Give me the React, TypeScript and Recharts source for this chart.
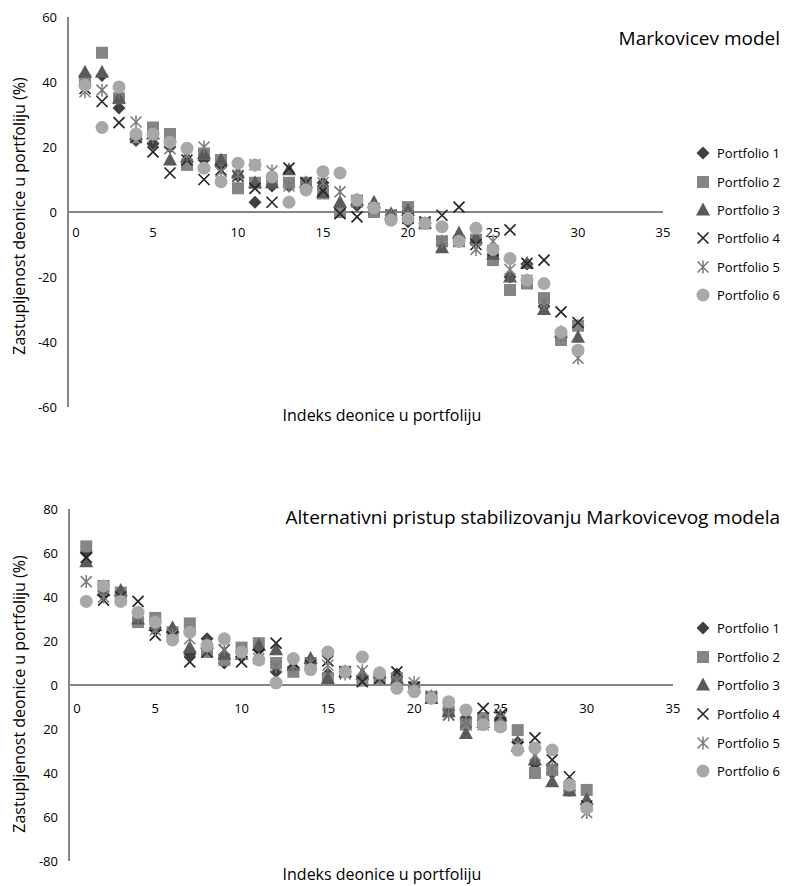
import React from 'react';
import { ScatterChart, Scatter, XAxis, YAxis, ReferenceLine, ReferenceDot } from 'recharts';

const stockIndex = [1, 2, 3, 4, 5, 6, 7, 8, 9, 10, 11, 12, 13, 14, 15, 16, 17, 18, 19, 20, 21, 22, 23, 24, 25, 26, 27, 28, 29, 30];

const seriesNames = ['Portfolio 1', 'Portfolio 2', 'Portfolio 3', 'Portfolio 4', 'Portfolio 5', 'Portfolio 6'];

// Markovicev model
const markP1 = [42, 42, 32, 22, 21, 20, 15, 16, 14, 11, 3, 8, 8, 8, 9, 1.5, 2, 1, -1, -3, -3.5, -10, -8, -8, -13, -20, -16, -29, -38, -35];
const markP2 = [40, 49, 35, 23, 26, 24, 14.5, 18, 16, 7.3, 9, 9.5, 9, 9, 5.7, 0, 3.5, 0, -1, 1.5, -3.5, -9, -9, -8.5, -14.8, -24, -22, -26.5, -39.4, -35];
const markP3 = [43, 43, 35, 24, 24, 16, 17, 18, 16, 12, 9, 9, 13, 9, 6, 3, 3.7, 3, -0.5, 0.5, -3.5, -11, -6.5, -8, -13, -20, -15.8, -30, -37, -38.5];
const markP4 = [38, 34, 27.5, 23, 18.5, 12, 16, 10, 13, 11, 7.3, 3, 13.5, 9, 6.5, -0.5, -1.5, 1, -1, -2, -3, -1, 1.5, -10, -12, -5.5, -15.8, -14.8, -30.7, -34];
const markP5 = [37, 37.5, 37, 27.7, 23, 19.5, 17.5, 20, 12.5, 11.4, 14.5, 12.6, 8, 8, 9, 6.2, 3, 1, -1, -1, -3.5, -9, -9, -11.5, -9, -17.7, -21, -28, -38, -45];
const markP6 = [39, 26, 38.5, 24, 24, 21.5, 19.6, 13.5, 9.3, 15, 14.5, 10.8, 3, 6.8, 12.4, 12, 3.7, 1.2, -2.5, -2, -3.5, -4.5, -9, -5, -11.5, -14.3, -21, -22, -37, -42.5];

// Alternativni pristup
const altP1 = [60, 41, 40, 30, 26, 24, 14, 21, 10, 13, 16, 6, 8, 10, 5, 6, 4, 4, 5, -1, -6, -11, -15, -16, -15, -26, -36, -40, -48, -54];
const altP2 = [63, 45, 42, 28.6, 30.5, 24, 28, 15, 11.4, 17, 19, 10, 6, 10, 3, 6, 2, 3, 3, -1, -5.4, -12, -18, -15, -18, -20.5, -40, -38.6, -48, -47.7];
const altP3 = [56, 43, 43, 30, 27, 26, 17, 19, 14, 14, 18, 16, 9, 12, 3, 6, 5, 5.5, 3, -1, -6, -12, -22, -17, -14, -28, -34, -44, -48, -52];
const altP4 = [58, 38.6, 40, 38, 22.7, 22, 10.5, 15, 16, 10.5, 14, 19, 10, 9, 11, 6, 1.5, 3, 6, -1, -6, -13.6, -17, -10.6, -13.6, -28, -24, -34, -41.7, -55];
const altP5 = [47, 40, 39, 31, 25, 23, 21, 16, 16, 14, 12, 8.4, 9, 10, 9, 5, 6.5, 4, 2, 1, -5, -13.6, -17, -18, -15, -27, -32, -38, -46, -58];
const altP6 = [38, 45, 38, 33, 28.6, 20.5, 24, 18, 21, 15, 11.4, 1, 12, 7, 15, 6, 12.7, 5.5, -1.5, -3, -6, -7.6, -11.4, -18, -19, -29.6, -28.6, -29.6, -45.5, -56];

const xTicks = [0, 5, 10, 15, 20, 25, 30, 35];
const topYTicks = [-60, -40, -20, 0, 20, 40, 60];
const bottomYTicks = [-80, -60, -40, -20, 0, 20, 40, 60, 80];
const bottomYTickLabels = ['-80', '60', '40', '20', '0', '20', '40', '60', '80'];

const FONT = '"Open Sans", "Noto Sans", sans-serif';
const AXIS_COLOR = '#868686';

const MARKERS = ['diamond', 'square', 'triangle', 'x', 'asterisk', 'circle'];
const COLORS = ['#3f3f3f', '#858585', '#5a5a5a', '#262626', '#7a7a7a', '#a8a8a8'];

function Marker({ kind, cx, cy }: { kind: string; cx: number; cy: number }) {
  if (cx == null || cy == null || isNaN(cx) || isNaN(cy)) return null;
  switch (kind) {
    case 'diamond':
      return <polygon points={`${cx},${cy - 6.5} ${cx + 6.5},${cy} ${cx},${cy + 6.5} ${cx - 6.5},${cy}`} fill={COLORS[0]} />;
    case 'square':
      return <rect x={cx - 6} y={cy - 6} width={12} height={12} fill={COLORS[1]} />;
    case 'triangle':
      return <polygon points={`${cx},${cy - 7.5} ${cx + 7},${cy + 5.5} ${cx - 7},${cy + 5.5}`} fill={COLORS[2]} />;
    case 'x':
      return (
        <path d={`M${cx - 5.5},${cy - 5.5}L${cx + 5.5},${cy + 5.5}M${cx + 5.5},${cy - 5.5}L${cx - 5.5},${cy + 5.5}`} stroke={COLORS[3]} strokeWidth={1.7} fill="none" />
      );
    case 'asterisk':
      return (
        <path d={`M${cx - 5.5},${cy - 5.5}L${cx + 5.5},${cy + 5.5}M${cx + 5.5},${cy - 5.5}L${cx - 5.5},${cy + 5.5}M${cx},${cy - 6.5}L${cx},${cy + 6.5}`} stroke={COLORS[4]} strokeWidth={1.5} fill="none" />
      );
    default:
      return <circle cx={cx} cy={cy} r={6.5} fill={COLORS[5]} />;
  }
}

const toPoints = (vals: number[]) => stockIndex.map((x, i) => ({ x, y: vals[i] }));

const markSeries = [markP1, markP2, markP3, markP4, markP5, markP6].map(toPoints);
const altSeries = [altP1, altP2, altP3, altP4, altP5, altP6].map(toPoints);

function XTickLabel(props: any) {
  const { viewBox, value, gap } = props;
  const x = viewBox.x + viewBox.width / 2 + (value === 0 ? 8 : 0);
  const y = viewBox.y + viewBox.height / 2 + gap;
  return (
    <text x={x} y={y} textAnchor="middle" dominantBaseline="central" fontSize={13} fill="#000" fontFamily={FONT}>
      {value}
    </text>
  );
}

function Panel({ series, yTicks, yDomain, tickFmt, width, height, margin, labelGap }: any) {
  return (
    <ScatterChart width={width} height={height} margin={margin}>
      <XAxis type="number" dataKey="x" domain={[0, 35]} ticks={xTicks} hide />
      <YAxis
        type="number"
        dataKey="y"
        domain={yDomain}
        ticks={yTicks}
        width={60}
        tickLine={false}
        tickMargin={5}
        axisLine={{ stroke: AXIS_COLOR, strokeWidth: 2 }}
        tick={{ fontSize: 13, fill: '#000', fontFamily: FONT }}
        tickFormatter={tickFmt}
        interval={0}
      />
      <ReferenceLine y={0} stroke={AXIS_COLOR} strokeWidth={2} />
      {xTicks.map((t) => (
        <ReferenceDot
          key={t}
          x={t}
          y={0}
          r={0}
          fill="none"
          stroke="none"
          label={(p: any) => <XTickLabel {...p} value={t} gap={labelGap} />}
        />
      ))}
      {series.map((data: any, i: number) => (
        <Scatter
          key={i}
          name={seriesNames[i]}
          data={data}
          isAnimationActive={false}
          shape={(p: any) => <Marker kind={MARKERS[i]} cx={p.cx} cy={p.cy} />}
        />
      ))}
    </ScatterChart>
  );
}

function Legend({ top, left, rowH }: { top: number; left: number; rowH: number }) {
  return (
    <div style={{ position: 'absolute', top, left, fontFamily: FONT, fontSize: 13 }}>
      {seriesNames.map((n, i) => (
        <div key={n} style={{ height: rowH, display: 'flex', alignItems: 'center' }}>
          <svg width={16} height={16} style={{ marginRight: 6 }}>
            <Marker kind={MARKERS[i]} cx={8} cy={8} />
          </svg>
          <span>{n}</span>
        </div>
      ))}
    </div>
  );
}

function VTitle({ cx, cy, text }: { cx: number; cy: number; text: string }) {
  return (
    <div
      style={{
        position: 'absolute',
        left: cx - 170,
        top: cy - 11,
        width: 340,
        height: 22,
        lineHeight: '22px',
        textAlign: 'center',
        transform: 'rotate(-90deg)',
        fontFamily: FONT,
        fontSize: 16,
        whiteSpace: 'nowrap',
      }}
    >
      {text}
    </div>
  );
}

function HText({ cx, cy, text, size, anchor }: any) {
  const style: any = {
    position: 'absolute',
    top: cy - 10,
    height: 20,
    lineHeight: '20px',
    fontFamily: FONT,
    fontSize: size,
    whiteSpace: 'nowrap',
  };
  if (anchor === 'end') {
    style.right = 787 - cx;
  } else {
    style.left = cx - 300;
    style.width = 600;
    style.textAlign = 'center';
  }
  return <div style={style}>{text}</div>;
}

export default function App() {
  const fmtTop = (v: number) => String(v);
  const fmtBottom = (v: number) => bottomYTickLabels[bottomYTicks.indexOf(v)] ?? String(v);
  return (
    <div style={{ position: 'relative', width: 787, height: 886, background: '#fff', overflow: 'hidden' }}>
      <style>{`body{margin:0}`}</style>
      <div style={{ position: 'absolute', left: 0, top: 0 }}>
        <Panel
          series={markSeries}
          yTicks={topYTicks}
          yDomain={[-60, 60]}
          tickFmt={fmtTop}
          width={787}
          height={420}
          margin={{ top: 17, right: 124, bottom: 13, left: 8 }}
          labelGap={20}
        />
      </div>
      <div style={{ position: 'absolute', left: 0, top: 480 }}>
        <Panel
          series={altSeries}
          yTicks={bottomYTicks}
          yDomain={[-80, 80]}
          tickFmt={fmtBottom}
          width={787}
          height={400}
          margin={{ top: 29, right: 114, bottom: 19, left: 9 }}
          labelGap={23}
        />
      </div>
      <HText cx={780} cy={38} text="Markovicev model" size={19} anchor="end" />
      <HText cx={780} cy={517} text="Alternativni pristup stabilizovanju Markovicevog modela" size={19} anchor="end" />
      <HText cx={382} cy={415} text="Indeks deonice u portfoliju" size={16} />
      <HText cx={382} cy={874} text="Indeks deonice u portfoliju" size={16} />
      <VTitle cx={19} cy={216} text="Zastupljenost deonice u portfoliju (%)" />
      <VTitle cx={19} cy={694} text="Zastupljenost deonice u portfoliju (%)" />
      <Legend top={139} left={695} rowH={28.4} />
      <Legend top={614} left={695} rowH={28.6} />
    </div>
  );
}
